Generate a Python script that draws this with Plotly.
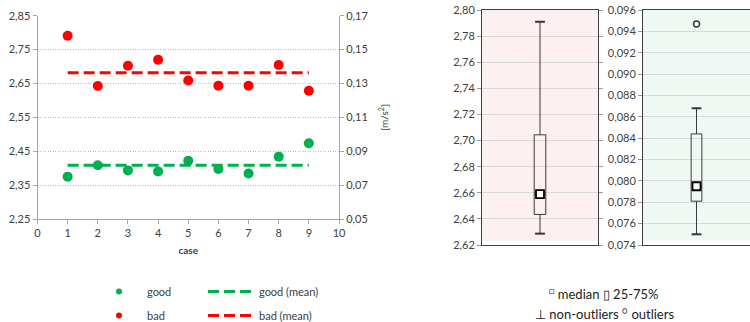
import numpy as np
import plotly.graph_objects as go

# ---- data ----
cases = [1, 2, 3, 4, 5, 6, 7, 8, 9]
bad = [2.791, 2.6425, 2.7025, 2.720, 2.659, 2.6434, 2.6434, 2.7044, 2.6287]
good = [0.0750, 0.0817, 0.0787, 0.0781, 0.0844, 0.0795, 0.0769, 0.0868, 0.0947]
left_ticks = [2.25, 2.35, 2.45, 2.55, 2.65, 2.75, 2.85]
right_ticks = [0.05, 0.07, 0.09, 0.11, 0.13, 0.15, 0.17]

RED = "#FF0000"
GREEN = "#00B050"
FONT = "Lato"
TXT = "#404040"

bad_mean = float(np.mean(bad))
good_mean = float(np.mean(good))


def whiskers(vals):
    v = np.sort(np.array(vals))
    q1, q3 = np.percentile(v, [25, 75])
    iqr = q3 - q1
    lo = v[v >= q1 - 1.5 * iqr].min()
    hi = v[v <= q3 + 1.5 * iqr].max()
    return float(lo), float(hi), float(np.median(v))


fig = go.Figure()

# ---- left scatter chart ----
fig.add_trace(go.Scatter(x=cases, y=bad, mode="markers", xaxis="x", yaxis="y",
                         marker=dict(color=RED, size=10), showlegend=False))
fig.add_trace(go.Scatter(x=cases, y=good, mode="markers", xaxis="x", yaxis="y2",
                         marker=dict(color=GREEN, size=10), showlegend=False))
fig.add_trace(go.Scatter(x=cases, y=[bad_mean] * len(cases), mode="lines", xaxis="x", yaxis="y",
                         line=dict(color=RED, width=3, dash="11px,5px"), showlegend=False))
fig.add_trace(go.Scatter(x=cases, y=[good_mean] * len(cases), mode="lines", xaxis="x", yaxis="y2",
                         line=dict(color=GREEN, width=3, dash="11px,5px"), showlegend=False))

# legend entries
fig.add_trace(go.Scatter(x=[None], y=[None], mode="markers", name="good", legend="legend",
                         legendgroup="g1", marker=dict(color=GREEN, size=6)))
fig.add_trace(go.Scatter(x=[None], y=[None], mode="markers", name="bad", legend="legend",
                         legendgroup="g2", marker=dict(color=RED, size=6)))
fig.add_trace(go.Scatter(x=[None], y=[None], mode="lines", name="good (mean)", legend="legend2",
                         legendgroup="g3", line=dict(color=GREEN, width=3, dash="11px,5px")))
fig.add_trace(go.Scatter(x=[None], y=[None], mode="lines", name="bad (mean)", legend="legend2",
                         legendgroup="g4", line=dict(color=RED, width=3, dash="11px,5px")))

# ---- box plots ----
BOXLINE = "#3a3a3a"
for vals, xa, ya in [(bad, "x2", "y3"), (good, "x3", "y4")]:
    fig.add_trace(go.Box(y=vals, x0=0, xaxis=xa, yaxis=ya, quartilemethod="inclusive",
                         boxpoints="outliers", width=0.1, fillcolor="rgba(0,0,0,0)",
                         line=dict(color=BOXLINE, width=1),
                         marker=dict(symbol="circle-open", size=6, color=BOXLINE,
                                     line=dict(width=1.5)),
                         showlegend=False))
    lo, hi, med = whiskers(vals)
    fig.add_trace(go.Scatter(x=[0, 0], y=[lo, hi], mode="markers", xaxis=xa, yaxis=ya,
                             marker=dict(symbol="line-ew", size=7,
                                         line=dict(color=BOXLINE, width=2)),
                             showlegend=False, hoverinfo="skip"))
    fig.add_trace(go.Scatter(x=[0], y=[med], mode="markers", xaxis=xa, yaxis=ya,
                             marker=dict(symbol="square", size=8, color="white",
                                         line=dict(color="black", width=1.8)),
                             showlegend=False))

W, H = 750, 322

def px_x(p):
    return p / W

def px_y(p):
    return 1 - p / H

axis_common = dict(color=TXT, tickfont=dict(family=FONT, size=11, color=TXT), automargin=False)

fig.update_layout(
    width=W, height=H,
    margin=dict(l=0, r=0, t=0, b=0, autoexpand=False),
    paper_bgcolor="white", plot_bgcolor="white",
    separators=", ",
    font=dict(family=FONT, size=11, color=TXT),
    xaxis=dict(domain=[px_x(37.5), px_x(339)], range=[0, 10], dtick=1, anchor="y",
               showline=True, linecolor="#a6a6a6", ticks="outside", ticklen=4,
               tickcolor="#a6a6a6", showgrid=False, zeroline=False,
               title=dict(text="<b>case</b>", font=dict(family=FONT, size=10, color=TXT),
                          standoff=8),
               **axis_common),
    yaxis=dict(domain=[px_y(219), px_y(15.7)], range=[2.25, 2.85], tickvals=left_ticks,
               tickformat=".2f", showline=True, linecolor="#a6a6a6", ticks="outside",
               ticklen=4, tickcolor="#a6a6a6", showgrid=True, gridcolor="#bdbdbd",
               griddash="1px,1.5px", zeroline=False, anchor="x", **axis_common),
    yaxis2=dict(overlaying="y", side="right", anchor="x", range=[0.05, 0.17],
                tickvals=right_ticks, tickformat=".2f", showline=True, linecolor="#a6a6a6",
                ticks="outside", ticklen=4, tickcolor="#a6a6a6", showgrid=False,
                zeroline=False,
                title=dict(text="[m/s<sup>2</sup>]", font=dict(family=FONT, size=10, color=TXT),
                           standoff=14),
                **axis_common),
    xaxis2=dict(domain=[px_x(482), px_x(598)], range=[-0.5, 0.5], anchor="y3",
                showticklabels=False, ticks="", showgrid=False, zeroline=False,
                showline=True, mirror=True, linecolor="#404040", linewidth=1, automargin=False),
    yaxis3=dict(domain=[px_y(245), px_y(10)], range=[2.62, 2.80], dtick=0.02,
                tickformat=".2f", anchor="x2", showline=True, mirror="ticks",
                linecolor="#404040", ticks="outside", ticklen=4, tickcolor="#9a9a9a",
                showgrid=True, gridcolor="#d9d9d9", zeroline=False, **axis_common),
    xaxis3=dict(domain=[px_x(643), 1.0], range=[-0.5, 0.5], anchor="y4",
                showticklabels=False, ticks="", showgrid=False, zeroline=False,
                showline=True, mirror=True, linecolor="#404040", linewidth=1, automargin=False),
    yaxis4=dict(domain=[px_y(245), px_y(10)], range=[0.074, 0.096], dtick=0.002,
                tickformat=".3f", anchor="x3", showline=True, mirror="ticks",
                linecolor="#404040", ticks="outside", ticklen=4, tickcolor="#9a9a9a",
                showgrid=True, gridcolor="#d9d9d9", zeroline=False, **axis_common),
    legend=dict(x=px_x(91), y=px_y(277), xanchor="left", yanchor="top",
                orientation="v", tracegroupgap=5, bgcolor="rgba(0,0,0,0)",
                font=dict(family=FONT, size=11, color=TXT), itemwidth=46),
    legend2=dict(x=px_x(203), y=px_y(277), xanchor="left", yanchor="top",
                 orientation="v", tracegroupgap=5, bgcolor="rgba(0,0,0,0)",
                 font=dict(family=FONT, size=11, color=TXT), itemwidth=46),
    shapes=[
        dict(type="rect", xref="x2 domain", yref="y3 domain", x0=0, x1=1, y0=0.018, y1=1,
             fillcolor="#FDF0F0", line=dict(width=0), layer="below"),
        dict(type="rect", xref="x3 domain", yref="y4 domain", x0=0, x1=1, y0=0.018, y1=1,
             fillcolor="#F0F8F3", line=dict(width=0), layer="below"),
    ],
    annotations=[
        dict(x=px_x(604), y=px_y(293), xref="paper", yref="paper", showarrow=False,
             xanchor="center", yanchor="middle",
             text="<sup>□</sup> median ▯ 25-75%",
             font=dict(family=FONT, size=13, color="#222222")),
        dict(x=px_x(604), y=px_y(313), xref="paper", yref="paper", showarrow=False,
             xanchor="center", yanchor="middle",
             text="⊥ non-outliers <sup>○</sup> outliers",
             font=dict(family=FONT, size=13, color="#222222")),
    ],
)

fig.write_html("out.html", config={"displayModeBar": False},
               post_script="document.body.style.margin='0';document.body.style.overflow='hidden';")
